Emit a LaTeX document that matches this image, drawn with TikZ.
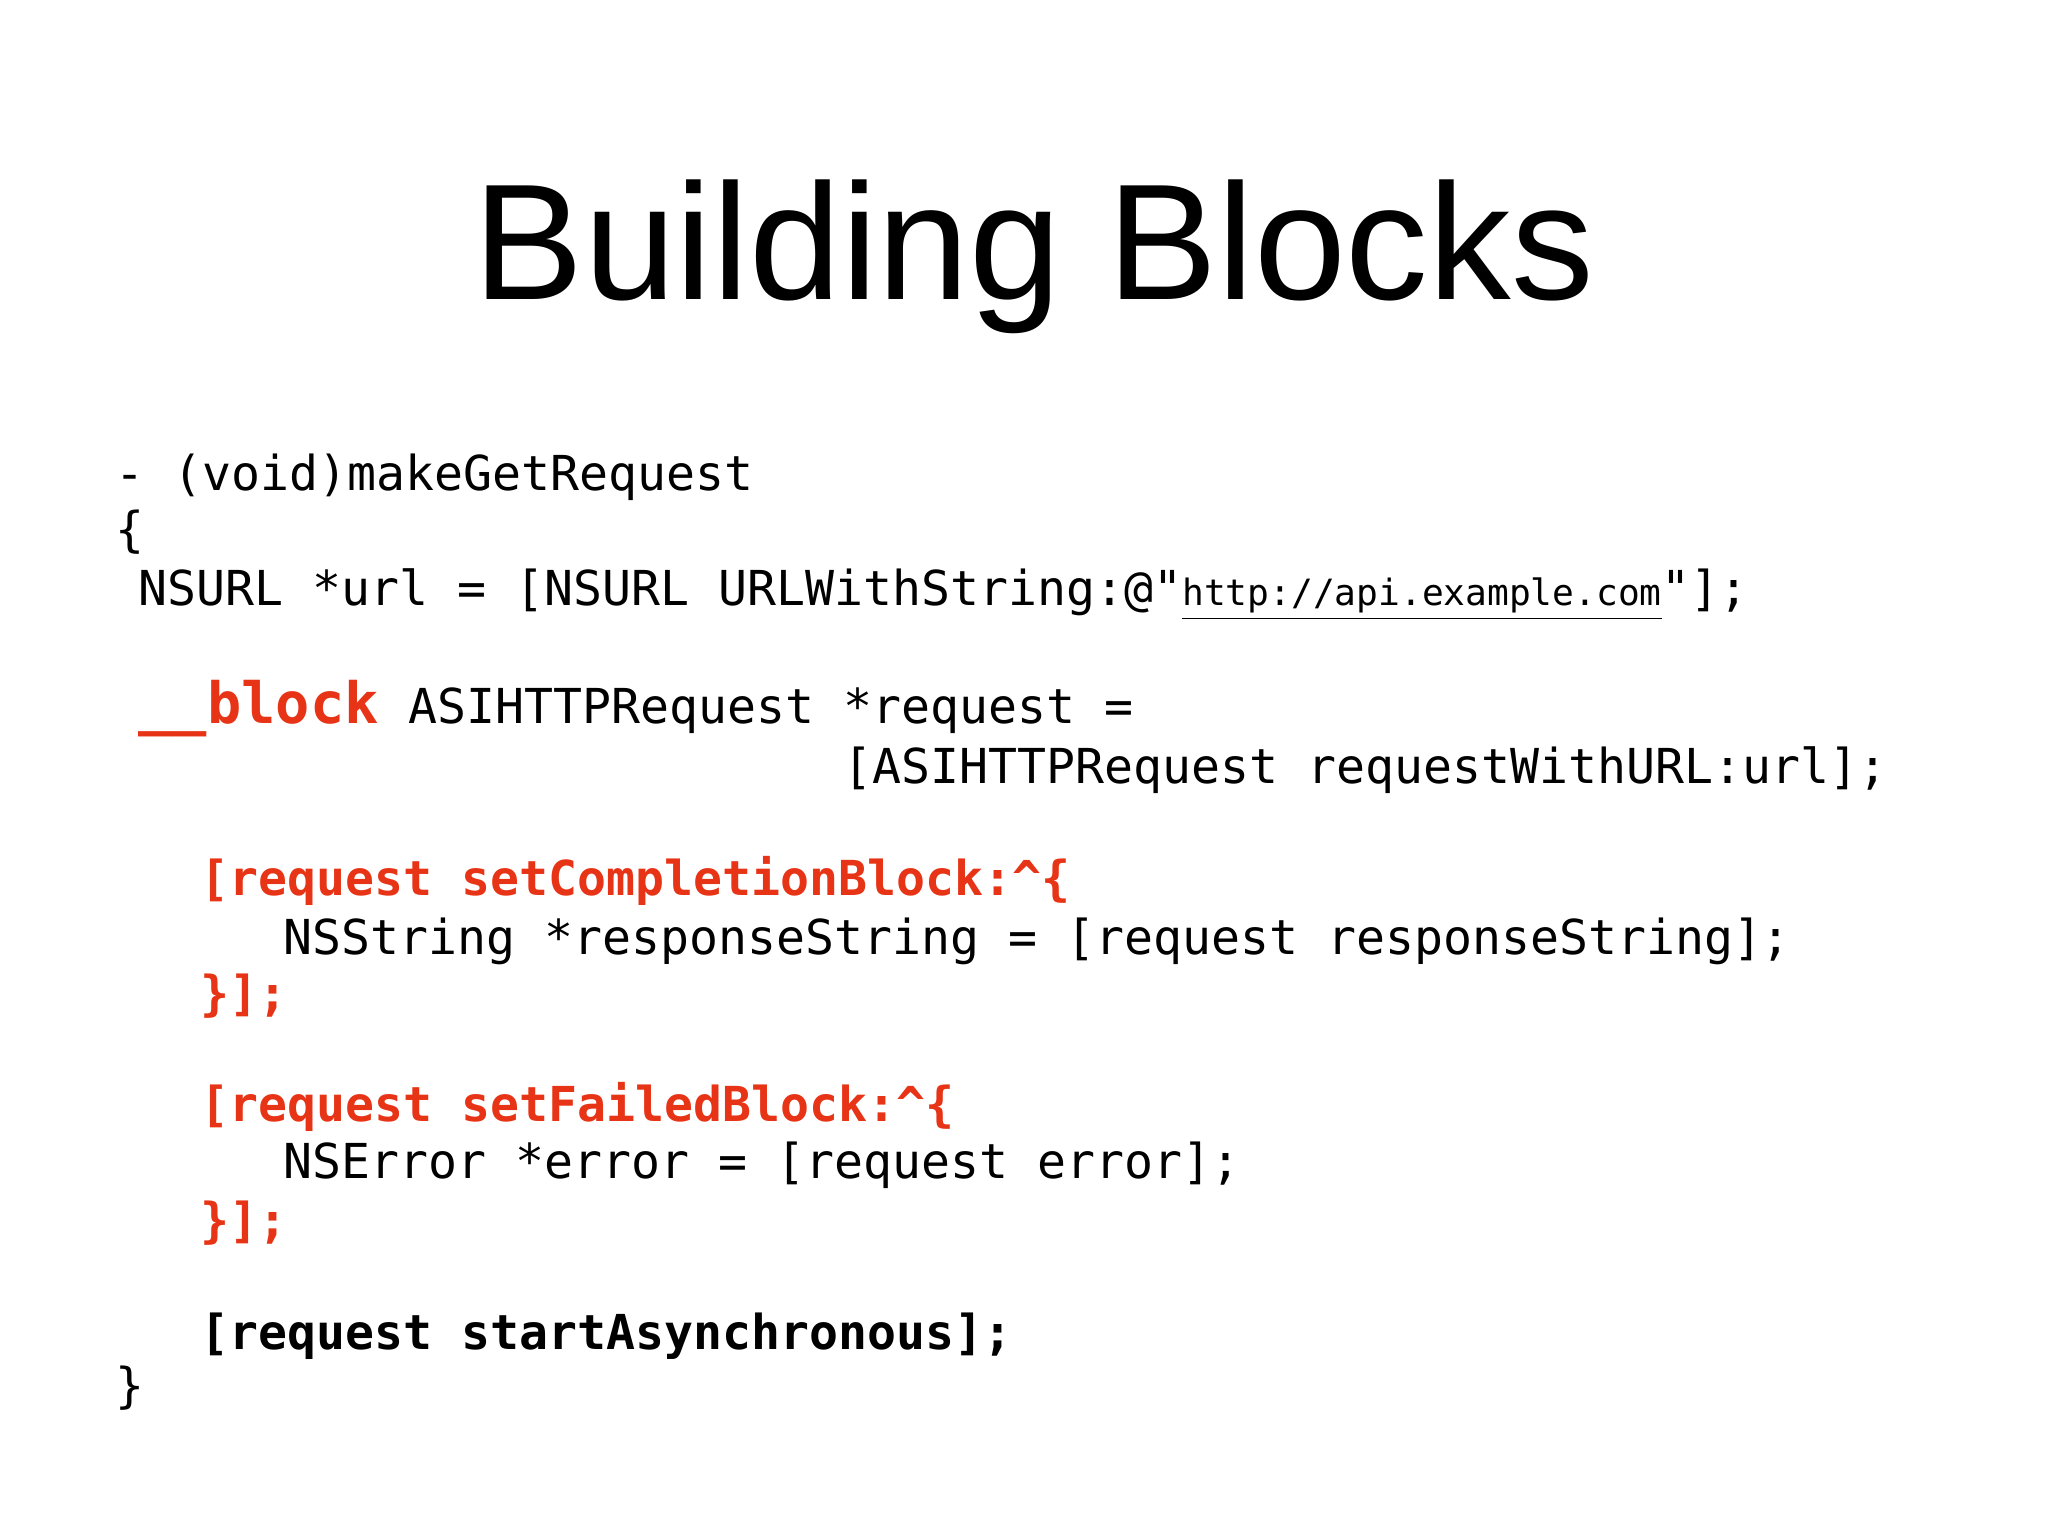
\documentclass[tikz,border=0pt]{standalone}
\usepackage{fontspec}
\setmainfont{Liberation Sans}
\setmonofont{DejaVu Sans Mono}
\definecolor{kw}{RGB}{232,52,22}
\begin{document}
\begin{tikzpicture}
\tikzset{code/.style={anchor=base west,inner sep=0pt,font=\ttfamily\fontsize{13.7pt}{16pt}\selectfont},
 red/.style={text=kw,font=\ttfamily\bfseries\fontsize{13.7pt}{16pt}\selectfont},
 boldc/.style={font=\ttfamily\bfseries\fontsize{13.7pt}{16pt}\selectfont}}
\useasboundingbox[fill=white] (0,0) rectangle (20.48,15.36);
\node[anchor=base,inner sep=0pt,font=\fontsize{47pt}{50pt}\selectfont] (title) at (10.34,12.36) {Building Blocks};
\node[code] (l1) at (1.146,10.45) {- (void)makeGetRequest};
\node[code] (l2) at (1.146,9.89) {\{};
\node[code] (l3) at (1.38,9.30) {NSURL *url = [NSURL URLWithString:@"{\fontsize{10.3pt}{12pt}\selectfont\underline{http://api.example.com}}"];};
\node[code,text=kw,font=\ttfamily\bfseries\fontsize{16.2pt}{18pt}\selectfont] (blk) at (1.38,8.12) {\_\_block};
\node[code] (l4) at (4.08,8.12) {ASIHTTPRequest *request =};
\node[code] (l5) at (8.43,7.52) {[ASIHTTPRequest requestWithURL:url];};
\node[code,red] (l6) at (2.00,6.40) {[request setCompletionBlock:\textasciicircum\{};
\node[code] (l7) at (2.83,5.81) {NSString *responseString = [request responseString];};
\node[code,red] (l8) at (2.00,5.25) {\}];};
\node[code,red] (l9) at (2.00,4.14) {[request setFailedBlock:\textasciicircum\{};
\node[code] (l10) at (2.83,3.57) {NSError *error = [request error];};
\node[code,red] (l11) at (2.00,2.98) {\}];};
\node[code,boldc] (l12) at (2.00,1.86) {[request startAsynchronous];};
\node[code] (l13) at (1.146,1.33) {\}};
\end{tikzpicture}
\end{document}
